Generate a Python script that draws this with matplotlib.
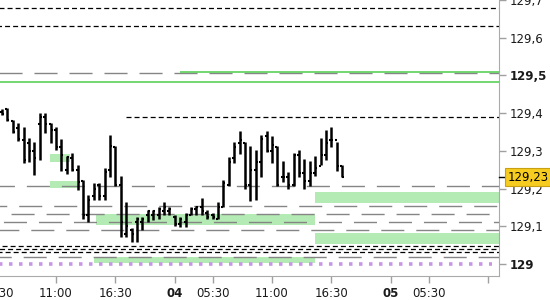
import matplotlib
matplotlib.use('Agg')
import matplotlib.pyplot as plt
import numpy as np

plt.rcParams['font.family'] = ['DejaVu Sans']
plt.rcParams['lines.scale_dashes'] = False

# OHLC bars, one per slot (30 min)
opens = [129.404, 129.410, 129.380, 129.360, 129.330, 129.322, 129.300, 129.371,
         129.390, 129.370, 129.355, 129.310, 129.250, 129.280, 129.250, 129.220,
         129.130, 129.180, 129.210, 129.180, 129.250, 129.310, 129.210, 129.080,
         129.090, 129.112, 129.110, 129.130, 129.130, 129.130, 129.140, 129.140,
         129.125, 129.105, 129.110, 129.130, 129.145, 129.150, 129.135, 129.130,
         129.120, 129.150, 129.210, 129.280, 129.320, 129.320, 129.210, 129.250,
         129.270, 129.340, 129.300, 129.310, 129.230, 129.230, 129.210, 129.290,
         129.240, 129.220, 129.240, 129.260, 129.290, 129.330, 129.330, 129.260]
highs = [129.411, 129.414, 129.382, 129.375, 129.363, 129.335, 129.324, 129.401,
         129.401, 129.375, 129.362, 129.331, 129.286, 129.294, 129.263, 129.223,
         129.183, 129.214, 129.214, 129.255, 129.342, 129.313, 129.233, 129.165,
         129.096, 129.125, 129.125, 129.143, 129.143, 129.152, 129.165, 129.152,
         129.130, 129.125, 129.135, 129.152, 129.154, 129.175, 129.143, 129.135,
         129.165, 129.223, 129.283, 129.324, 129.353, 129.324, 129.313, 129.302,
         129.342, 129.353, 129.338, 129.313, 129.273, 129.245, 129.295, 129.302,
         129.278, 129.273, 129.286, 129.335, 129.355, 129.364, 129.324, 129.263]
lows = [129.395, 129.379, 129.347, 129.327, 129.269, 129.271, 129.237, 129.276,
        129.347, 129.320, 129.302, 129.247, 129.239, 129.247, 129.196, 129.119,
        129.112, 129.170, 129.170, 129.170, 129.231, 129.207, 129.071, 129.072,
        129.059, 129.059, 129.090, 129.112, 129.117, 129.119, 129.130, 129.130,
        129.101, 129.099, 129.099, 129.130, 129.130, 129.130, 129.118, 129.118,
        129.118, 129.150, 129.207, 129.269, 129.292, 129.198, 129.168, 129.170,
        129.230, 129.298, 129.269, 129.207, 129.218, 129.198, 129.207, 129.230,
        129.198, 129.207, 129.233, 129.263, 129.276, 129.310, 129.247, 129.230]
closes = [129.398, 129.382, 129.350, 129.331, 129.275, 129.300, 129.281, 129.390,
          129.371, 129.355, 129.309, 129.290, 129.283, 129.250, 129.218, 129.130,
          129.170, 129.200, 129.180, 129.245, 129.313, 129.210, 129.112, 129.100,
          129.080, 129.120, 129.120, 129.140, 129.140, 129.145, 129.150, 129.145,
          129.105, 129.120, 129.130, 129.145, 129.150, 129.140, 129.125, 129.125,
          129.150, 129.215, 129.270, 129.310, 129.330, 129.210, 129.250, 129.271,
          129.331, 129.300, 129.315, 129.210, 129.230, 129.210, 129.290, 129.240,
          129.220, 129.240, 129.255, 129.290, 129.320, 129.330, 129.260, 129.230]
last_price = 129.23

# time axis (slot index) and labels
tick_slots = [-1, 10, 21, 32, 39, 50, 61, 72, 79, 90]
tick_labels = ['05:30', '11:00', '16:30', '04', '05:30', '11:00', '16:30', '05', '05:30', '']
day_labels = ['04', '05']

# price levels
black_levels = [129.680, 129.631, 129.048, 129.040, 129.031]
black_level_short = 129.390      # starts at slot 23
gray_levels = [129.507, 129.207, 129.154, 129.132, 129.111, 129.089, 129.019]
green_level_full = 129.483
green_level_short = 129.510      # starts at slot 33
purple_level = 129.0

# zones: (start slot, end slot, low, high); None end = open to the right
zones = [(8.9, 12.6, 129.271, 129.292),
         (8.9, 13.8, 129.202, 129.220),
         (17.5, 58.0, 129.102, 129.133),
         (17.0, 58.0, 129.002, 129.019),
         (58.0, None, 129.162, 129.191),
         (58.0, None, 129.054, 129.082)]

y_ticks = [129.0, 129.1, 129.2, 129.3, 129.4, 129.5, 129.6, 129.7]

fig = plt.figure(figsize=(5.5, 3.0), dpi=100)
ax = fig.add_axes([-10 / 550, 24 / 300, 509 / 550, 276 / 300])
x_left, x_right = -2.22, 92.04
ax.set_xlim(x_left, x_right)
ax.set_ylim(128.968, 129.700)

# zones
for x0, x1, lo, hi in zones:
    if x1 is None:
        x1 = x_right
    ax.fill_between([x0, x1], lo, hi, color='#b4eab4', lw=0, zorder=1)

# level lines
for i, lvl in enumerate(gray_levels):
    ax.axhline(lvl, color='#858585', lw=1.0, linestyle=(i * 5.5, (16.6, 8.6)), zorder=2)
for i, lvl in enumerate(black_levels):
    ax.axhline(lvl, color='black', lw=0.9, linestyle=(i * 1.8, (3.6, 2.2)), zorder=2)
ax.hlines(black_level_short, 23, x_right, color='black', lw=0.9,
          linestyle=(0, (3.6, 2.2)), zorder=2)
ax.axhline(green_level_full, color='#4ccd4c', lw=1.1, zorder=2)
ax.hlines(green_level_short, 33, x_right, color='#4ccd4c', lw=1.1, zorder=2)
ax.hlines(purple_level, x_left + 0.2, 90.8, color='#c896e6', lw=2.6,
          linestyle=(0, (2.5, 4.7)), zorder=2)

# OHLC bars
x = np.arange(len(opens))
ax.vlines(x, lows, highs, color='black', lw=1.8, zorder=3)
ax.hlines(opens, x - 0.38, x, color='black', lw=1.5, zorder=3)
ax.hlines(closes, x, x + 0.38, color='black', lw=1.5, zorder=3)

# axes styling
for side in ['top', 'left']:
    ax.spines[side].set_visible(False)
for side in ['right', 'bottom']:
    ax.spines[side].set_color('#aaaaaa')
ax.yaxis.tick_right()
ax.set_yticks(y_ticks)
ax.set_yticklabels([('%g' % v).replace('.', ',') for v in y_ticks])
ax.set_xticks(tick_slots)
ax.set_xticklabels(tick_labels)
ax.tick_params(axis='both', colors='#a0a0a0', labelcolor='#1a1a1a', labelsize=8.5,
               length=5, width=1)
ax.tick_params(axis='y', pad=3)
ax.tick_params(axis='x', pad=3)
for lab in ax.get_yticklabels():
    if lab.get_text() in ('129', '129,5'):
        lab.set_fontweight('bold')
for lab in ax.get_xticklabels():
    if lab.get_text() in day_labels:
        lab.set_fontweight('bold')

# last price marker
yt = ax.get_yaxis_transform()
ax.plot([1.0, 1.012], [last_price, last_price], color='black', lw=1,
        transform=yt, clip_on=False, zorder=9)
ax.text(1.0165, last_price, ('%.2f' % last_price).replace('.', ','), transform=yt,
        ha='left', va='center', fontsize=8.5, color='black', zorder=10,
        bbox=dict(boxstyle='square,pad=0.22', fc='#f7cc20', ec='#c9a010', lw=0.8))

fig.savefig('out.png', dpi=100)
